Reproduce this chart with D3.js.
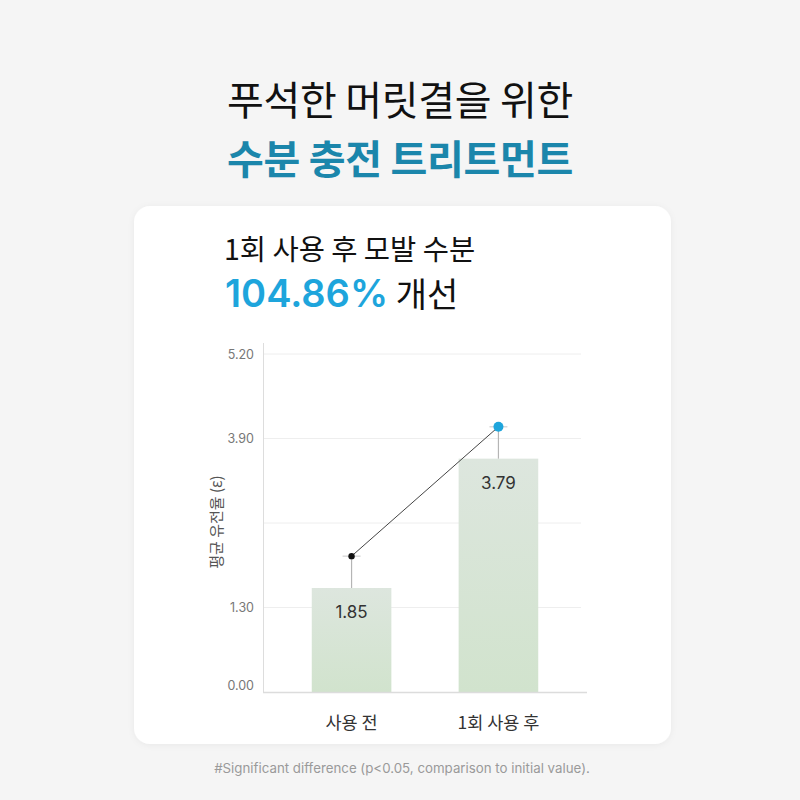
<!DOCTYPE html>
<html><head><meta charset="utf-8">
<script src="https://cdn.jsdelivr.net/npm/d3@7"></script>
<style>
html,body{margin:0;padding:0;background:#f5f5f5;}
svg{display:block;}
</style></head>
<body>
<script>
// ---- data ----
const categories = ["사용 전", "1회 사용 후"];
const barValues = [1.60, 3.59];          // bar heights as drawn
const barLabels = ["1.85", "3.79"];      // printed value labels
const errorTops = [2.09, 4.08];          // whisker tops / line points
const yTicks = [0, 1.30, 2.60, 3.90, 5.20];
const yTickLabels = ["0.00", "1.30", "", "3.90", "5.20"];
const titleLine1 = "푸석한 머릿결을 위한";
const titleLine2 = "수분 충전 트리트먼트";
const cardTitle = "1회 사용 후 모발 수분";
const highlight = "104.86%";
const highlightSuffix = " 개선";
const yAxisTitle = "평균 유전율 (ε)";
const footnote = "#Significant difference (p<0.05, comparison to initial value).";

const W = 800, H = 800;
const KR = "'Noto Sans CJK KR','Noto Sans',sans-serif";
const svg = d3.select("body").append("svg").attr("width", W).attr("height", H);
const defs = svg.append("defs");
const f = defs.append("filter").attr("id","shadow").attr("x","-10%").attr("y","-10%").attr("width","120%").attr("height","120%");
f.append("feDropShadow").attr("dx",0).attr("dy",1).attr("stdDeviation",3).attr("flood-color","#000").attr("flood-opacity",0.05);
const g = defs.append("linearGradient").attr("id","barGrad").attr("x1",0).attr("y1",0).attr("x2",0).attr("y2",1);
g.append("stop").attr("offset","0%").attr("stop-color","#dde6de");
g.append("stop").attr("offset","100%").attr("stop-color","#d1e3cd");

svg.append("rect").attr("width",W).attr("height",H).attr("fill","#f5f5f5");

// titles
svg.append("text").attr("x",400).attr("y",115).attr("text-anchor","middle")
  .attr("font-family",KR).attr("font-size",40).attr("font-weight",400).attr("fill","#111")
  .attr("letter-spacing","-0.3").text(titleLine1);
svg.append("text").attr("x",400).attr("y",174).attr("text-anchor","middle")
  .attr("font-family",KR).attr("font-size",40).attr("font-weight",700).attr("fill","#1b86ab")
  .attr("letter-spacing","-0.3").text(titleLine2);

// card
svg.append("rect").attr("x",134).attr("y",206).attr("width",537).attr("height",538)
  .attr("rx",16).attr("fill","#fff").attr("filter","url(#shadow)");

svg.append("text").attr("x",224).attr("y",260)
  .attr("font-family",KR).attr("font-size",28.5).attr("font-weight",400).attr("fill","#111")
  .text(cardTitle);
const hl = svg.append("text").attr("x",225).attr("y",307)
  .attr("font-family",KR).attr("font-size",34).attr("font-weight",400);
hl.append("tspan").attr("fill","#1ea5dc").attr("font-weight",600)
  .attr("font-family","Inter,'Noto Sans',sans-serif").attr("font-size",38).text(highlight);
hl.append("tspan").attr("fill","#111").text(highlightSuffix);

// scales
const x = d3.scaleBand().domain(categories).range([263, 587]).paddingInner(0.458).paddingOuter(0.332);
const y = d3.scaleLinear().domain([0, 5.2]).range([692, 354]);

// gridlines
svg.append("g").selectAll("line").data(yTicks.slice(1)).join("line")
  .attr("x1",263).attr("x2",581).attr("y1",d=>y(d)).attr("y2",d=>y(d))
  .attr("stroke","#eeeeee").attr("stroke-width",1);

// y axis
const yAxis = d3.axisLeft(y).tickValues(yTicks).tickFormat((d,i)=>yTickLabels[i]).tickSize(0).tickPadding(9);
const ya = svg.append("g").attr("transform","translate(263,0)").call(yAxis);
ya.select(".domain").remove();
ya.selectAll("text").attr("font-family","Inter,'Noto Sans',sans-serif").attr("font-size",12.5).attr("fill","#777")
  .attr("dy",(d)=> d===0 ? "-0.2em" : "0.32em");
svg.append("line").attr("x1",263.5).attr("x2",263.5).attr("y1",343).attr("y2",692).attr("stroke","#dddddd");

// bars
svg.append("g").selectAll("rect").data(barValues).join("rect")
  .attr("x",(d,i)=>x(categories[i])).attr("width",x.bandwidth())
  .attr("y",d=>y(d)).attr("height",d=>y(0)-y(d)).attr("fill","url(#barGrad)");

// x axis line
svg.append("line").attr("x1",263).attr("x2",587).attr("y1",692.5).attr("y2",692.5).attr("stroke","#dcdcdc").attr("stroke-width",1.5);

// error whiskers
const cx = i => x(categories[i]) + x.bandwidth()/2;
svg.append("g").selectAll("line").data(errorTops).join("line")
  .attr("x1",(d,i)=>cx(i)).attr("x2",(d,i)=>cx(i))
  .attr("y1",d=>y(d)).attr("y2",(d,i)=>y(barValues[i]))
  .attr("stroke","#b5b5b5").attr("stroke-width",1.2);
svg.append("g").selectAll("line").data(errorTops).join("line")
  .attr("x1",(d,i)=>cx(i)-9).attr("x2",(d,i)=>cx(i)+9)
  .attr("y1",d=>y(d)).attr("y2",d=>y(d))
  .attr("stroke","#d0d0d0").attr("stroke-width",1.2);

// connecting line
svg.append("path").datum(errorTops)
  .attr("d", d3.line().x((d,i)=>cx(i)).y(d=>y(d)))
  .attr("fill","none").attr("stroke","#444").attr("stroke-width",1);

// points
svg.append("g").selectAll("circle").data(errorTops).join("circle")
  .attr("cx",(d,i)=>cx(i)).attr("cy",d=>y(d))
  .attr("r",(d,i)=> i===0 ? 3.2 : 5)
  .attr("fill",(d,i)=> i===0 ? "#111" : "#1ea5dc");

// value labels
svg.append("g").selectAll("text").data(barValues).join("text")
  .attr("x",(d,i)=>cx(i)).attr("y",d=>y(d)+30).attr("text-anchor","middle")
  .attr("font-family","Inter,'Noto Sans',sans-serif").attr("font-size",17).attr("fill","#333")
  .text((d,i)=>barLabels[i]);

// x labels
svg.append("g").selectAll("text").data(categories).join("text")
  .attr("x",d=>x(d)+x.bandwidth()/2).attr("y",729).attr("text-anchor","middle")
  .attr("font-family",KR).attr("font-size",17.5).attr("fill","#333").text(d=>d);

// y axis title
svg.append("text").attr("transform","translate(222,522) rotate(-90)").attr("text-anchor","middle")
  .attr("font-family",KR).attr("font-size",15).attr("fill","#555").text(yAxisTitle);

// footnote
svg.append("text").attr("x",402).attr("y",773).attr("text-anchor","middle")
  .attr("font-family","Inter,'Noto Sans',sans-serif").attr("font-size",13.3).attr("fill","#9a9a9a")
  .text(footnote);
</script>
</body></html>
